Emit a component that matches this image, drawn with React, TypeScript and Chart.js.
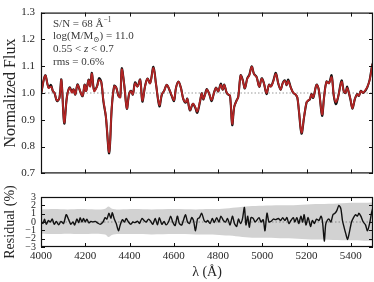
import React, { useEffect, useRef } from 'react';
import { Chart, registerables } from 'chart.js';

Chart.register(...registerables);

const FONT = "'Liberation Serif', 'DejaVu Serif', serif";
const TEXT_COLOR = '#262626';

// Top panel: wavelength grid (Angstrom), best-fit model and observed stacked spectrum
const MODEL_WAVE = [
  4000, 4019, 4034, 4045, 4054, 4061, 4072, 4083, 4092, 4105, 4117, 4129, 4140, 4147, 4155, 4165, 4177, 4188, 4197, 4204,
  4215, 4222, 4230, 4240, 4253, 4262, 4272, 4282, 4293, 4308, 4320, 4331, 4340, 4350, 4358, 4365, 4376, 4388, 4398, 4407,
  4415, 4425, 4436, 4448, 4458, 4470, 4481, 4493, 4508, 4520, 4535, 4546, 4556, 4568, 4580, 4591, 4601, 4610, 4621, 4632,
  4643, 4654, 4661, 4673, 4686, 4696, 4706, 4719, 4726, 4733, 4740, 4749, 4761, 4771, 4782, 4791, 4801, 4812, 4821, 4828,
  4839, 4846, 4854, 4864, 4873, 4884, 4891, 4902, 4911, 4921, 4932, 4941, 4952, 4962, 4974, 4986, 4997, 5007, 5019, 5030,
  5039, 5049, 5061, 5072, 5083, 5092, 5102, 5110, 5117, 5129, 5140, 5150, 5158, 5165, 5177, 5189, 5200, 5207, 5215, 5222,
  5230, 5245, 5255, 5270, 5279, 5290, 5301, 5313, 5323, 5332, 5342, 5358, 5368, 5376, 5383, 5391, 5398, 5407, 5418, 5428,
  5436, 5445, 5455, 5467, 5475, 5485, 5496, 5500,
];
const MODEL_FLUX = [
  0.996, 1.065, 1.019, 1.024, 1.007, 1.0, 0.972, 0.98, 1.048, 0.89, 0.984, 1.019, 1.001, 1.013, 0.995, 1.03, 1.007, 0.99, 1.03, 1.007,
  1.048, 1.024, 1.072, 1.007, 1.024, 1.048, 1.042, 0.972, 0.914, 0.78, 0.95, 1.025, 1.019, 0.99, 0.984, 1.088, 1.03, 0.943, 0.995, 1.007,
  0.995, 1.036, 1.024, 1.048, 0.972, 1.024, 1.053, 1.036, 1.094, 1.03, 0.955, 0.995, 1.007, 1.03, 1.013, 0.99, 0.974, 1.019, 1.042, 1.019,
  0.978, 0.966, 0.978, 0.937, 0.96, 0.949, 0.931, 0.972, 0.998, 0.978, 0.99, 1.013, 0.995, 0.974, 1.001, 1.019, 1.007, 1.03, 1.013, 1.03,
  1.001, 0.995, 0.99, 0.885, 0.949, 0.972, 0.984, 1.065, 1.048, 1.018, 1.053, 1.065, 1.098, 1.071, 1.059, 1.024, 1.053, 1.036, 1.0, 1.03,
  1.024, 1.042, 1.071, 1.036, 1.013, 1.036, 1.045, 1.03, 1.045, 1.019, 1.001, 0.995, 0.984, 0.937, 0.852, 0.914, 0.966, 0.972, 0.978, 0.995,
  0.984, 1.03, 1.013, 0.92, 0.984, 1.042, 1.036, 1.059, 0.99, 0.966, 0.984, 1.042, 1.007, 1.001, 1.019, 1.001, 0.978, 0.943, 0.978, 0.995,
  0.99, 1.007, 1.001, 1.013, 1.024, 1.048, 1.1, 1.11,
];
const DATA_FLUX = [
  0.994, 1.066, 1.021, 1.03, 1.006, 1.0, 0.97, 0.981, 1.05, 0.886, 0.985, 1.021, 1.006, 1.014, 0.994, 1.032, 1.006, 0.988, 1.031, 1.008,
  1.05, 1.026, 1.075, 1.01, 1.025, 1.055, 1.043, 0.968, 0.912, 0.775, 0.948, 1.027, 1.02, 0.989, 0.985, 1.092, 1.031, 0.941, 0.996, 1.008,
  0.994, 1.04, 1.025, 1.05, 0.968, 1.025, 1.054, 1.037, 1.098, 1.031, 0.95, 0.994, 1.008, 1.031, 1.012, 0.988, 0.97, 1.02, 1.043, 1.02,
  0.977, 0.964, 0.979, 0.935, 0.959, 0.947, 0.926, 0.97, 0.999, 0.976, 0.992, 1.015, 0.994, 0.97, 1.002, 1.02, 1.006, 1.035, 1.012, 1.031,
  1.0, 0.994, 0.989, 0.88, 0.948, 0.973, 0.985, 1.066, 1.05, 1.017, 1.055, 1.068, 1.1, 1.072, 1.06, 1.023, 1.055, 1.037, 0.996, 1.031,
  1.025, 1.044, 1.075, 1.035, 1.012, 1.037, 1.047, 1.029, 1.05, 1.02, 1.0, 0.994, 0.983, 0.935, 0.848, 0.912, 0.965, 0.971, 0.977, 0.996,
  0.982, 1.031, 1.012, 0.915, 0.985, 1.043, 1.037, 1.066, 0.988, 0.958, 0.983, 1.047, 1.006, 1.0, 1.024, 1.0, 0.976, 0.941, 0.977, 0.996,
  0.989, 1.008, 1.0, 1.01, 1.023, 1.05, 1.104, 1.112,
];

// Bottom panel: residual (%) and 1-sigma error band
const RES_WAVE = [
  4000, 4009, 4016, 4024, 4033, 4042, 4051, 4060, 4069, 4080, 4090, 4102, 4114, 4125, 4135, 4144, 4152, 4162, 4171, 4177,
  4185, 4192, 4200, 4207, 4216, 4225, 4234, 4245, 4255, 4267, 4280, 4290, 4298, 4307, 4316, 4322, 4331, 4340, 4350, 4358,
  4368, 4377, 4385, 4395, 4406, 4415, 4425, 4436, 4445, 4456, 4466, 4475, 4486, 4496, 4505, 4516, 4526, 4535, 4546, 4556,
  4565, 4576, 4586, 4595, 4606, 4616, 4625, 4636, 4643, 4653, 4662, 4671, 4681, 4689, 4698, 4707, 4716, 4726, 4737, 4746,
  4753, 4764, 4774, 4783, 4794, 4804, 4813, 4824, 4834, 4843, 4854, 4865, 4874, 4884, 4892, 4901, 4910, 4919, 4926, 4934,
  4941, 4949, 4959, 4967, 4974, 4985, 4994, 5004, 5012, 5021, 5030, 5039, 5050, 5060, 5072, 5083, 5092, 5102, 5111, 5120,
  5129, 5140, 5147, 5156, 5165, 5174, 5182, 5189, 5197, 5207, 5218, 5226, 5235, 5245, 5256, 5265, 5272, 5280, 5286, 5293,
  5301, 5310, 5319, 5328, 5337, 5346, 5355, 5362, 5370, 5377, 5385, 5392, 5403, 5412, 5421, 5430, 5436, 5445, 5456, 5466,
  5475, 5486, 5493, 5500,
];
const RES_VAL = [
  0.1, -0.18, 0.35, -0.28, 0.18, 0.0, 0.35, -0.28, 0.07, -0.35, 0.07, -0.18, 0.88, 0.28, -0.28, 0.0, -0.35, 0.35, -0.07, 0.53,
  0.0, 0.42, 0.0, 0.35, -0.1, 0.07, 0.0, 0.07, -0.1, -0.28, 0.0, 0.53, 0.35, 1.05, 0.42, 1.12, 0.35, -0.18, -1.05, -0.35,
  0.28, 0.0, 0.42, 0.0, -0.28, 0.0, -0.07, 0.1, -0.18, 0.42, 0.18, 0.0, 0.35, 0.07, -0.28, 0.42, -0.35, 0.53, -0.28, 0.07,
  -0.35, 0.0, 0.7, 0.0, -0.42, 0.7, -0.18, -0.35, 0.18, 0.88, 0.0, -0.18, 0.53, 0.18, -1.05, 0.35, 0.53, 1.05, 0.18, 0.0,
  0.18, -0.18, 0.42, -0.07, 0.53, 0.0, 0.7, 0.18, 0.0, 0.42, -0.35, 0.7, -0.18, -0.53, 0.35, -0.18, 0.35, 1.75, -0.35, 0.7,
  -0.63, 0.53, 0.42, 0.0, 0.18, 0.53, 0.0, 0.28, -1.05, 1.05, 0.0, 0.07, 0.35, 0.28, 0.42, 0.18, 0.53, 0.18, 0.53, -0.18,
  0.18, 0.53, 0.0, 0.53, -0.18, 0.7, 0.0, 0.88, -0.35, 0.53, -0.53, 0.18, -0.18, 0.35, 0.18, 0.7, 0.0, -2.28, -0.35, 0.18,
  0.35, 0.0, 0.88, 1.05, 1.4, 2.0, 1.58, 0.18, -0.7, -1.4, -2.1, -1.4, 0.0, 0.53, 0.88, 0.7, 1.05, 0.7, 0.0, -0.35,
  -1.05, 0.0, 1.05, 1.75,
];
const BAND_WAVE = [4000, 4060, 4120, 4180, 4250, 4290, 4305, 4320, 4350, 4420, 4500, 4600, 4700, 4760, 4820, 4880, 4940, 5000, 5080, 5160, 5240, 5320, 5400, 5460, 5500];
const BAND_HI = [1.5, 1.55, 1.5, 1.55, 1.5, 1.6, 1.85, 1.6, 1.5, 1.55, 1.5, 1.55, 1.5, 1.55, 1.6, 1.75, 1.9, 1.95, 2.0, 2.05, 2.15, 2.2, 2.3, 2.3, 2.35];
const BAND_LO = [-1.4, -1.45, -1.4, -1.45, -1.4, -1.5, -1.8, -1.55, -1.45, -1.45, -1.5, -1.45, -1.5, -1.5, -1.6, -1.7, -1.85, -1.9, -1.95, -2.0, -2.1, -2.15, -2.2, -2.25, -2.3];

const X_TICKS = [4000, 4200, 4400, 4600, 4800, 5000, 5200, 5400];
const FLUX_TICKS = [0.7, 0.8, 0.9, 1.0, 1.1, 1.2, 1.3];
const RES_TICKS = [-3, -2, -1, 0, 1, 2, 3];

const pts = (xs: number[], ys: number[]) => xs.map((x, i) => ({ x, y: ys[i] }));

const frameTicks = (xt: number[], yt: number[]) => ({
  id: 'frameTicks',
  afterDatasetsDraw(chart: any) {
    const { ctx, chartArea: a, scales } = chart;
    ctx.save();
    ctx.strokeStyle = '#111';
    ctx.lineWidth = 1;
    ctx.beginPath();
    for (const v of xt) {
      const px = Math.round(scales.x.getPixelForValue(v)) + 0.5;
      ctx.moveTo(px, a.top);
      ctx.lineTo(px, a.top + 4);
      ctx.moveTo(px, a.bottom);
      ctx.lineTo(px, a.bottom - 4);
    }
    for (const v of yt) {
      const py = Math.round(scales.y.getPixelForValue(v)) + 0.5;
      ctx.moveTo(a.left, py);
      ctx.lineTo(a.left + 4, py);
      ctx.moveTo(a.right, py);
      ctx.lineTo(a.right - 4, py);
    }
    ctx.stroke();
    ctx.lineWidth = 1.2;
    ctx.strokeRect(a.left + 0.5, a.top + 0.5, a.right - a.left - 1, a.bottom - a.top - 1);
    ctx.restore();
  },
});

type Seg = { t: string; font: string; dy?: number };
const drawSegs = (ctx: CanvasRenderingContext2D, segs: Seg[], x: number, y: number) => {
  let cx = x;
  for (const s of segs) {
    ctx.font = s.font;
    ctx.fillText(s.t, cx, y + (s.dy || 0));
    cx += ctx.measureText(s.t).width;
  }
};

const annotations = {
  id: 'annotations',
  afterDraw(chart: any) {
    const { ctx, chartArea: a } = chart;
    const F = `11px ${FONT}`;
    const FS = `7.5px ${FONT}`;
    const FI = `italic 11px ${FONT}`;
    ctx.save();
    ctx.fillStyle = '#3a3a3a';
    ctx.textBaseline = 'alphabetic';
    ctx.textAlign = 'left';
    const x0 = a.left + 12;
    drawSegs(ctx, [{ t: 'S/N = 68 Å', font: F }, { t: '−1', font: FS, dy: -5 }], x0, 26.5);
    drawSegs(ctx, [{ t: 'log(M/M', font: F }, { t: '⊙', font: FS, dy: 3 }, { t: ') = 11.0', font: F }], x0, 39);
    drawSegs(ctx, [{ t: '0.55 < ', font: F }, { t: 'z', font: FI }, { t: ' < 0.7', font: F }], x0, 52);
    drawSegs(ctx, [{ t: 'rms = 0.6%', font: F }], x0, 65);
    ctx.restore();
  },
};

export default function App() {
  const topRef = useRef<HTMLCanvasElement>(null);
  const botRef = useRef<HTMLCanvasElement>(null);

  useEffect(() => {
    const tickFont = { family: FONT, size: 11 };
    const top = new Chart(topRef.current as HTMLCanvasElement, {
      type: 'line',
      data: {
        datasets: [
          { data: pts(MODEL_WAVE, MODEL_FLUX), borderColor: '#b22424', borderWidth: 1.8, pointRadius: 0, tension: 0.35 },
          { data: pts(MODEL_WAVE, DATA_FLUX), borderColor: '#111', borderWidth: 2.1, pointRadius: 0, tension: 0.35 },
          { data: [{ x: 4000, y: 1 }, { x: 5500, y: 1 }], borderColor: '#999', borderWidth: 1, borderDash: [1.5, 2], pointRadius: 0 },
        ],
      } as any,
      options: {
        animation: false,
        responsive: false,
        maintainAspectRatio: false,
        layout: { padding: { top: 6, right: 1, bottom: 8, left: 0 } },
        plugins: { legend: { display: false }, tooltip: { enabled: false } },
        scales: {
          x: { type: 'linear', min: 4000, max: 5500, display: false },
          y: {
            type: 'linear',
            min: 0.7,
            max: 1.3,
            afterFit: (s: any) => { s.width = 41; },
            afterBuildTicks: (s: any) => { s.ticks = FLUX_TICKS.map((v) => ({ value: v })); },
            ticks: { padding: 6, autoSkip: false, font: tickFont, color: TEXT_COLOR, callback: (v: any) => Number(v).toFixed(1) },
            grid: { display: false, drawTicks: false },
            border: { display: false },
            title: { display: true, text: 'Normalized Flux', font: { family: FONT, size: 16 }, color: TEXT_COLOR, padding: { top: 1, bottom: 0 } },
          },
        },
      } as any,
      plugins: [frameTicks(X_TICKS, FLUX_TICKS), annotations],
    });

    const bot = new Chart(botRef.current as HTMLCanvasElement, {
      type: 'line',
      data: {
        datasets: [
          { data: pts(RES_WAVE, RES_VAL), borderColor: '#111', borderWidth: 1.4, pointRadius: 0, tension: 0.25 },
          { data: [{ x: 4000, y: 0 }, { x: 5500, y: 0 }], borderColor: '#888', borderWidth: 1, borderDash: [1.5, 2], pointRadius: 0 },
          { data: pts(BAND_WAVE, BAND_HI), borderWidth: 0, pointRadius: 0, fill: '+1', backgroundColor: '#d2d2d2', tension: 0.3 },
          { data: pts(BAND_WAVE, BAND_LO), borderWidth: 0, pointRadius: 0, fill: false, tension: 0.3 },
        ],
      } as any,
      options: {
        animation: false,
        responsive: false,
        maintainAspectRatio: false,
        layout: { padding: { top: 4, right: 1, bottom: 0, left: 0 } },
        plugins: { legend: { display: false }, tooltip: { enabled: false } },
        scales: {
          x: {
            type: 'linear',
            min: 4000,
            max: 5500,
            afterFit: (s: any) => { s.height = 35; },
            afterBuildTicks: (s: any) => { s.ticks = X_TICKS.map((v) => ({ value: v })); },
            ticks: { padding: 3, font: tickFont, color: TEXT_COLOR, autoSkip: false, maxRotation: 0, callback: (v: any) => String(v) },
            grid: { display: false, drawTicks: false },
            border: { display: false },
            title: { display: true, text: 'λ (Å)', font: { family: FONT, size: 14 }, color: TEXT_COLOR, padding: { top: 0, bottom: 1 } },
          },
          y: {
            type: 'linear',
            min: -3,
            max: 3,
            afterFit: (s: any) => { s.width = 41; },
            afterBuildTicks: (s: any) => { s.ticks = RES_TICKS.map((v) => ({ value: v })); },
            ticks: {
              padding: 5,
              autoSkip: false,
              font: { family: FONT, size: 10 },
              color: TEXT_COLOR,
              callback: (v: any) => (Number(v) < 0 ? '−' + Math.abs(Number(v)) : String(v)),
            },
            grid: { display: false, drawTicks: false },
            border: { display: false },
            title: { display: true, text: 'Residual (%)', font: { family: FONT, size: 14 }, color: TEXT_COLOR, padding: { top: 2, bottom: 0 } },
          },
        },
      } as any,
      plugins: [frameTicks(X_TICKS, RES_TICKS)],
    });

    return () => {
      top.destroy();
      bot.destroy();
    };
  }, []);

  return (
    <div style={{ position: 'fixed', left: 0, top: 0, width: 374, height: 282, background: '#fff' }}>
      <canvas ref={topRef} width={374} height={186} style={{ position: 'absolute', left: 0, top: 0, width: 374, height: 186 }} />
      <canvas ref={botRef} width={374} height={96} style={{ position: 'absolute', left: 0, top: 186, width: 374, height: 96 }} />
    </div>
  );
}
